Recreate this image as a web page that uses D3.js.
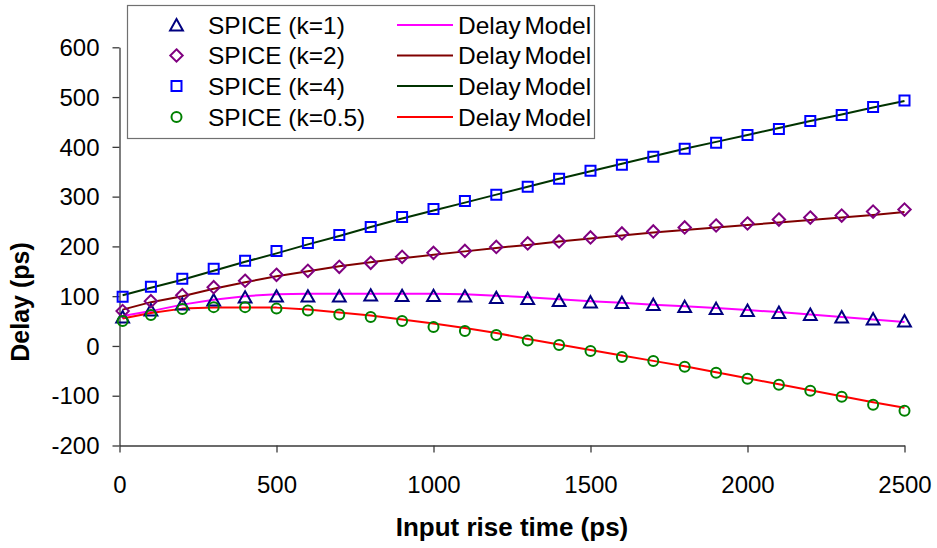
<!DOCTYPE html>
<html>
<head>
<meta charset="utf-8">
<script src="https://cdn.jsdelivr.net/npm/d3@7"></script>
<style>
  html, body { margin: 0; padding: 0; background: #ffffff; }
  svg { display: block; font-family: "Liberation Sans", Arial, Helvetica, sans-serif; }
</style>
</head>
<body>
<svg id="chart" width="937" height="548"></svg>
<script>
// Input rise time samples (ps)
const riseTimes = [10, 100, 200, 300, 400, 500, 600, 700, 800, 900, 1000, 1100, 1200,
  1300, 1400, 1500, 1600, 1700, 1800, 1900, 2000, 2100, 2200, 2300, 2400, 2500];

// SPICE simulated delay (ps)
const spiceK1 = [58, 72, 84, 92, 98, 100, 100, 100, 102, 101, 101, 100, 97,
  95, 91, 88, 87, 83, 79, 75, 71, 67, 63, 58, 54, 50];
const spiceK2 = [70, 90, 102, 118, 131, 143, 151, 159, 167, 179, 187, 191, 199,
  206, 210, 218, 226, 230, 238, 242, 246, 254, 258, 262, 270, 274];
const spiceK4 = [99, 119, 135, 155, 171, 191, 207, 223, 239, 259, 275, 291, 304,
  320, 336, 352, 364, 380, 396, 408, 424, 436, 452, 464, 480, 493];
const spiceK05 = [50, 62, 74, 78, 78, 75, 71, 63, 58, 50, 38, 30, 22,
  11, 2, -10, -22, -30, -42, -54, -66, -78, -90, -102, -118, -130];

// Delay model predictions (ps)
const modelK1 = [60, 70, 83, 93, 100, 104, 105, 105, 105, 105, 105, 104, 101,
  98, 94, 90, 87, 83, 80, 76, 72, 68, 63, 58, 53, 48];
const modelK2 = [73, 88, 100, 115, 128, 140, 150, 160, 168, 176, 183, 190, 197,
  203, 210, 216, 222, 228, 233, 238, 243, 248, 253, 258, 263, 269];
const modelK4 = [102, 117, 133, 151, 169, 186, 204, 221, 239, 256, 272, 288, 304,
  320, 336, 351, 366, 381, 396, 410, 424, 438, 452, 465, 479, 492];
const modelK05 = [55, 66, 75, 77, 77, 77, 73, 67, 61, 53, 45, 36, 26,
  14, 3, -8, -19, -30, -41, -53, -65, -77, -89, -101, -113, -124];

// Axis ticks and titles
const xTicks = [0, 500, 1000, 1500, 2000, 2500];
const yTicks = [-200, -100, 0, 100, 200, 300, 400, 500, 600];
const xTitle = "Input rise time (ps)";
const yTitle = "Delay (ps)";

const spiceLabels = ["SPICE (k=1)", "SPICE (k=2)", "SPICE (k=4)", "SPICE (k=0.5)"];
const modelLabel = "Delay Model";

// Marker outlines, centred on the data point
const markerPaths = {
  triangle: "M0,-6L6.4,5.4L-6.4,5.4Z",
  diamond: "M0,-6.2L6.2,0L0,6.2L-6.2,0Z",
  square: "M-5,-5H5V5H-5Z",
  circle: d3.symbol(d3.symbolCircle, Math.PI * 5 * 5)()
};

const spiceSeries = [
  { label: spiceLabels[0], values: spiceK1, marker: "triangle", color: "#000080" },
  { label: spiceLabels[1], values: spiceK2, marker: "diamond", color: "#800080" },
  { label: spiceLabels[2], values: spiceK4, marker: "square", color: "#0000ff" },
  { label: spiceLabels[3], values: spiceK05, marker: "circle", color: "#008000" }
];
const modelSeries = [
  { label: modelLabel, values: modelK1, color: "#ff00ff" },
  { label: modelLabel, values: modelK2, color: "#800000" },
  { label: modelLabel, values: modelK4, color: "#003300" },
  { label: modelLabel, values: modelK05, color: "#ff0000" }
];

const svg = d3.select("#chart");

const x = d3.scaleLinear().domain([0, 2500]).range([119.5, 904.5]);
const y = d3.scaleLinear().domain([-200, 600]).range([445.5, 47.3]);

// Plain hyphen for negative values
const tickFmt = d => String(d);

// Axes
const axisColor = "#3a3a3a";
const xAxis = svg.append("g")
  .attr("transform", `translate(0,${y(-200)})`)
  .call(d3.axisBottom(x).tickValues(xTicks).tickFormat(tickFmt)
    .tickSizeInner(7).tickSizeOuter(0).tickPadding(24));
const yAxis = svg.append("g")
  .attr("transform", `translate(${x(0)},0)`)
  .call(d3.axisLeft(y).tickValues(yTicks).tickFormat(tickFmt)
    .tickSizeInner(7).tickSizeOuter(0).tickPadding(13));

[xAxis, yAxis].forEach(g => {
  g.select(".domain").attr("stroke", axisColor).attr("stroke-width", 1.3);
  g.selectAll(".tick line").attr("stroke", axisColor).attr("stroke-width", 1.3);
  g.selectAll(".tick text")
    .attr("fill", "#000")
    .style("font-size", "24px")
    .style("font-family", "'Liberation Sans', Arial, sans-serif");
});
yAxis.selectAll(".tick text").attr("dy", "0.34em");
xAxis.selectAll(".tick text").attr("dy", "0.68em");

// Axis titles
svg.append("text")
  .attr("x", (x(0) + x(2500)) / 2)
  .attr("y", 536)
  .attr("text-anchor", "middle")
  .style("font-size", "26px")
  .style("font-weight", "bold")
  .text(xTitle);

svg.append("text")
  .attr("transform", "translate(29,302) rotate(-90)")
  .attr("text-anchor", "middle")
  .style("font-size", "25px")
  .style("font-weight", "bold")
  .text(yTitle);

// Model curves
const line = d3.line()
  .x((d, i) => x(riseTimes[i]))
  .y(d => y(d));

svg.append("g")
  .selectAll("path")
  .data(modelSeries)
  .join("path")
  .attr("d", s => line(s.values))
  .attr("fill", "none")
  .attr("stroke", s => s.color)
  .attr("stroke-width", 2)
  .attr("stroke-linejoin", "round");

// SPICE markers
const markerGroups = svg.append("g")
  .selectAll("g")
  .data(spiceSeries)
  .join("g");

markerGroups.selectAll("path")
  .data(s => s.values.map((v, i) => ({ t: riseTimes[i], v, s })))
  .join("path")
  .attr("transform", d => `translate(${x(d.t)},${y(d.v)})`)
  .attr("d", d => markerPaths[d.s.marker])
  .attr("fill", "none")
  .attr("stroke", d => d.s.color)
  .attr("stroke-width", 2);

// Legend
const legend = svg.append("g");
legend.append("rect")
  .attr("x", 127.5)
  .attr("y", 5.5)
  .attr("width", 467)
  .attr("height", 133)
  .attr("fill", "#ffffff")
  .attr("stroke", "#707070")
  .attr("stroke-width", 1.2);

const rowY = [25, 55.5, 86, 117];
spiceSeries.forEach((s, i) => {
  const row = legend.append("g").attr("transform", `translate(0,${rowY[i]})`);
  row.append("path")
    .attr("transform", "translate(176.5,0)")
    .attr("d", markerPaths[s.marker])
    .attr("fill", "none")
    .attr("stroke", s.color)
    .attr("stroke-width", 2);
  row.append("text")
    .attr("x", 208)
    .attr("dy", "0.35em")
    .style("font-size", "24.5px")
    .text(s.label);
  const m = modelSeries[i];
  row.append("line")
    .attr("x1", 397).attr("x2", 453)
    .attr("y1", 0).attr("y2", 0)
    .attr("stroke", m.color)
    .attr("stroke-width", 2);
  row.append("text")
    .attr("x", 458)
    .attr("dy", "0.35em")
    .style("font-size", "24.5px")
    .style("word-spacing", "-3px")
    .text(m.label);
});
</script>
</body>
</html>
